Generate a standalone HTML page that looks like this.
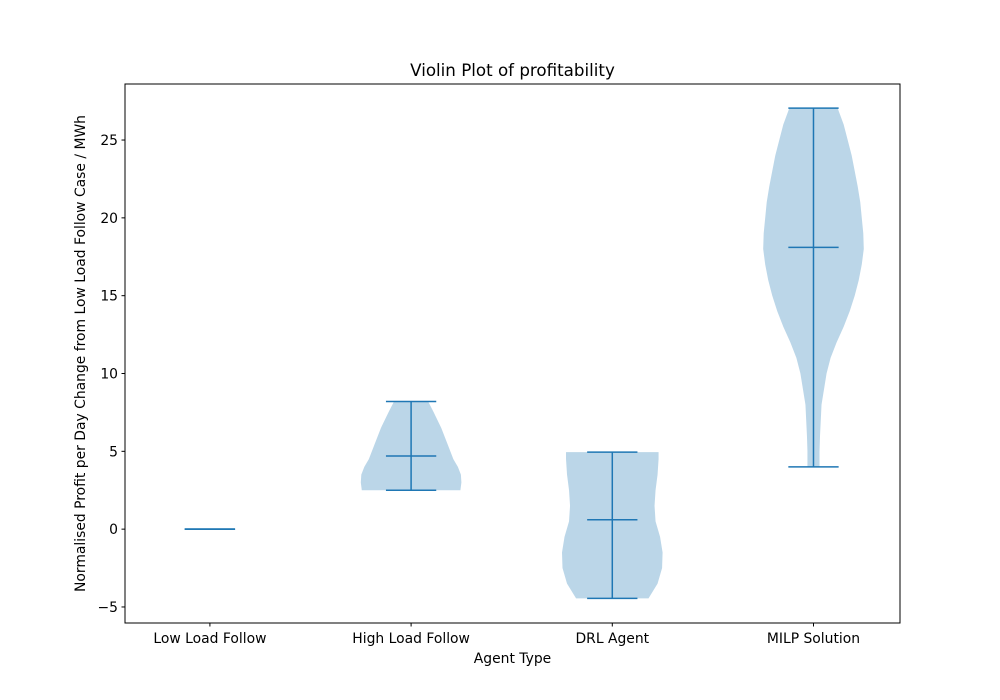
<!DOCTYPE html>
<html><head><meta charset="utf-8"><style>
html,body{margin:0;padding:0;background:#fff}
svg{display:block;font-family:"DejaVu Sans","Liberation Sans",sans-serif}
</style></head><body>
<svg id="chart" width="1000" height="700" viewBox="0 0 1000 700">
<rect width="1000" height="700" fill="#fff"/>
<text x="512.5" y="76" font-size="16.7" text-anchor="middle">Violin Plot of profitability</text>
<g id="plot"></g>
<rect x="125" y="84" width="775" height="539" fill="none" stroke="#000" stroke-width="1"/>
<text x="512.5" y="663" font-size="13.9" text-anchor="middle">Agent Type</text>
<text transform="translate(85,353.5) rotate(-90)" font-size="13.9" text-anchor="middle">Normalised Profit per Day Change from Low Load Follow Case / MWh</text>
</svg>
<script>
const categories = ["Low Load Follow","High Load Follow","DRL Agent","MILP Solution"];
const mins = [0, 2.5, -4.45, 4.0];
const maxs = [0, 8.2, 4.95, 27.05];
const medians = [0, 4.7, 0.6, 18.1];
const yTicks = [-5, 0, 5, 10, 15, 20, 25];
// density profiles: value levels and relative half-widths (0..1)
const levels2 = [2.5, 3.0, 3.5, 4.0, 4.5, 5.5, 6.5, 7.5, 8.2];
const widths2 = [0.98, 1.0, 0.99, 0.93, 0.84, 0.72, 0.6, 0.45, 0.34];
const levels3 = [-4.45, -3.5, -2.5, -1.5, -0.5, 0.5, 1.5, 2.5, 3.5, 4.5, 4.95];
const widths3 = [0.72, 0.9, 0.99, 1.0, 0.95, 0.86, 0.84, 0.86, 0.9, 0.92, 0.92];
const levels4 = [4.0, 5, 6, 8, 10, 11, 12, 13, 14, 15, 16, 17, 18, 19, 20, 21, 22, 23, 24, 25, 26, 27.05];
const widths4 = [0.12, 0.12, 0.13, 0.16, 0.26, 0.34, 0.46, 0.6, 0.72, 0.82, 0.9, 0.96, 1.0, 0.99, 0.96, 0.93, 0.88, 0.82, 0.76, 0.68, 0.6, 0.48];
const profileLevels = [null, levels2, levels3, levels4];
const profileWidths = [null, widths2, widths3, widths4];

const X0=125, X1=900, Y0=84, Y1=623;
const xMin=0.578, xMax=4.43, yMin=-6.03, yMax=28.6;
const xs = v => X0 + (v - xMin) / (xMax - xMin) * (X1 - X0);
const ys = v => Y1 - (v - yMin) / (yMax - yMin) * (Y1 - Y0);
const NS="http://www.w3.org/2000/svg";
const svg=document.getElementById('chart');
const g=document.getElementById('plot');
const C="#1f77b4";
function mk(t,a,p){const e=document.createElementNS(NS,t);for(const k in a)e.setAttribute(k,a[k]);(p||g).appendChild(e);return e;}

yTicks.forEach(t=>{
  const y=ys(t);
  const l=mk('line',{x1:X0-3.5,x2:X0,y1:y,y2:y,stroke:'#000','stroke-width':1},svg);
  
  
  const tx=mk('text',{x:X0-7,y:y+5,'font-size':13.9,'text-anchor':'end'},svg);
  tx.textContent=(t<0?'\u2212'+(-t):t);
  
  
});
categories.forEach((c,i)=>{
  const x=xs(i+1);
  const l=mk('line',{x1:x,x2:x,y1:Y1,y2:Y1+3.5,stroke:'#000','stroke-width':1},svg);
  
  
  const tx=mk('text',{x:x,y:Y1+20,'font-size':13.9,'text-anchor':'middle'},svg);
  tx.textContent=c;
  
  
});
const halfW = xs(1.25)-xs(1);
categories.forEach((c,i)=>{
  const cx=xs(i+1);
  const lv=profileLevels[i], wd=profileWidths[i];
  if(lv){
    let pts=[];
    for(let k=0;k<lv.length;k++) pts.push([cx+wd[k]*halfW, ys(lv[k])]);
    for(let k=lv.length-1;k>=0;k--) pts.push([cx-wd[k]*halfW, ys(lv[k])]);
    const p=mk('polygon',{points:pts.map(q=>q.join(',')).join(' '),fill:C,'fill-opacity':0.3,stroke:'none'});
    
    
  }
  const hw=halfW*0.5;
  [[mins[i],'violin-min'],[maxs[i],'violin-max'],[medians[i],'violin-median']].forEach(([v,n])=>{
    const l=mk('line',{x1:cx-hw,x2:cx+hw,y1:ys(v),y2:ys(v),stroke:C,'stroke-width':1.5});
    
    
  });
  const vl=mk('line',{x1:cx,x2:cx,y1:ys(mins[i]),y2:ys(maxs[i]),stroke:C,'stroke-width':1.5});
  
  
});
</script>
</body></html>
